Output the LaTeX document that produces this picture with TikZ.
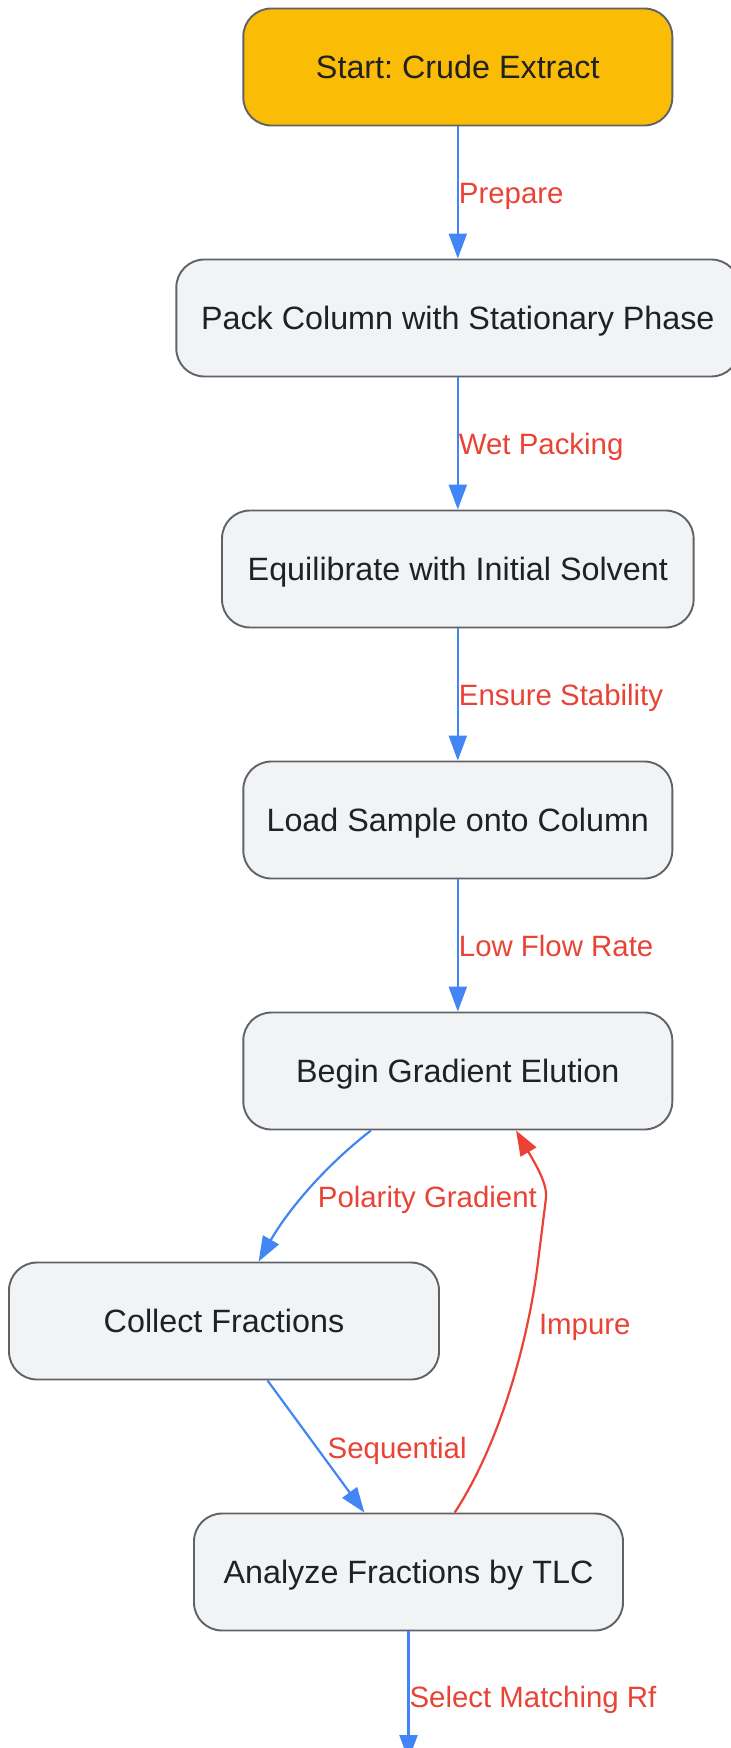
\documentclass[tikz,border=0pt]{standalone}
\usepackage{fontspec}
\setmainfont{Liberation Sans}
\frenchspacing
\usetikzlibrary{arrows.meta,calc}
\definecolor{ystart}{HTML}{FBBC05}
\definecolor{boxfill}{HTML}{F1F3F4}
\definecolor{boxdraw}{HTML}{5F6368}
\definecolor{edgeblue}{HTML}{4285F4}
\definecolor{edgered}{HTML}{EA4335}
\definecolor{txt}{HTML}{202124}
\begin{document}
\begin{tikzpicture}[x=0.5pt,y=-0.5pt,
  box/.style={draw=boxdraw, line width=0.95pt, fill=boxfill, rounded corners=14pt,
    minimum height=58.5pt, minimum width=214.5pt, text=txt,
    font=\fontsize{16.15}{19}\selectfont, inner sep=0pt, text height=11.6pt, text depth=0pt},
  startbox/.style={box, fill=ystart},
  lbl/.style={text=edgered, font=\fontsize{14.7}{17}\selectfont, inner sep=0pt,
    anchor=west, text height=10.6pt, text depth=0pt, yshift=-0.4pt},
  flow/.style={draw=edgeblue, line width=1.1pt, -{Triangle[length=12.5pt,width=9pt]}},
  back/.style={draw=edgered, line width=1.1pt, -{Triangle[length=12.5pt,width=9pt]}}
]
\useasboundingbox[fill=white] (0,0) rectangle (730,1748);

\node[startbox] (start) at (457.8,67) {Start: Crude Extract};
\node[box, minimum width=281.5pt] (pack) at (457.8,318) {Pack Column with Stationary Phase};
\node[box, minimum width=235.8pt] (equil) at (457.8,569) {Equilibrate with Initial Solvent};
\node[box] (load) at (457.8,820) {Load Sample onto Column};
\node[box] (begin) at (457.8,1071) {Begin Gradient Elution};
\node[box, minimum width=215pt] (collect) at (224,1321) {Collect Fractions};
\node[box] (analyze) at (408.5,1572) {Analyze Fractions by TLC};
\coordinate (out) at (408.5,1760);

\draw[flow] (start) -- node[lbl] (l1) {Prepare} (pack);
\draw[flow] (pack) -- node[lbl] (l2) {Wet Packing} (equil);
\draw[flow] (equil) -- node[lbl] (l3) {Ensure Stability} (load);
\draw[flow] (load) -- node[lbl] (l4) {Low Flow Rate} (begin);

\draw[flow] ($(begin.south)+(-86.8,0)$) .. controls (320,1170) and (285,1215) .. ($(collect.north)+(34.6,0)$);
\node[lbl] (l5) at (317.5,1196) {Polarity Gradient};

\draw[flow] ($(collect.south)+(43.5,0)$) -- ($(analyze.north)+(-44.1,0)$);
\node[lbl] (l6) at (327.3,1447) {Sequential};

\draw[back] ($(analyze.north)+(46.2,0)$) .. controls (503.5,1437.8) and (529.6,1331) .. (538,1262)
  -- (546,1198) .. controls (547.5,1184) and (536,1165) .. ($(begin.south)+(58.2,0)$);
\node[lbl] (l7) at (538.6,1323) {Impure};

\draw[flow] (analyze) -- node[lbl] (l8) {Select Matching Rf} (out);
\end{tikzpicture}
\end{document}
